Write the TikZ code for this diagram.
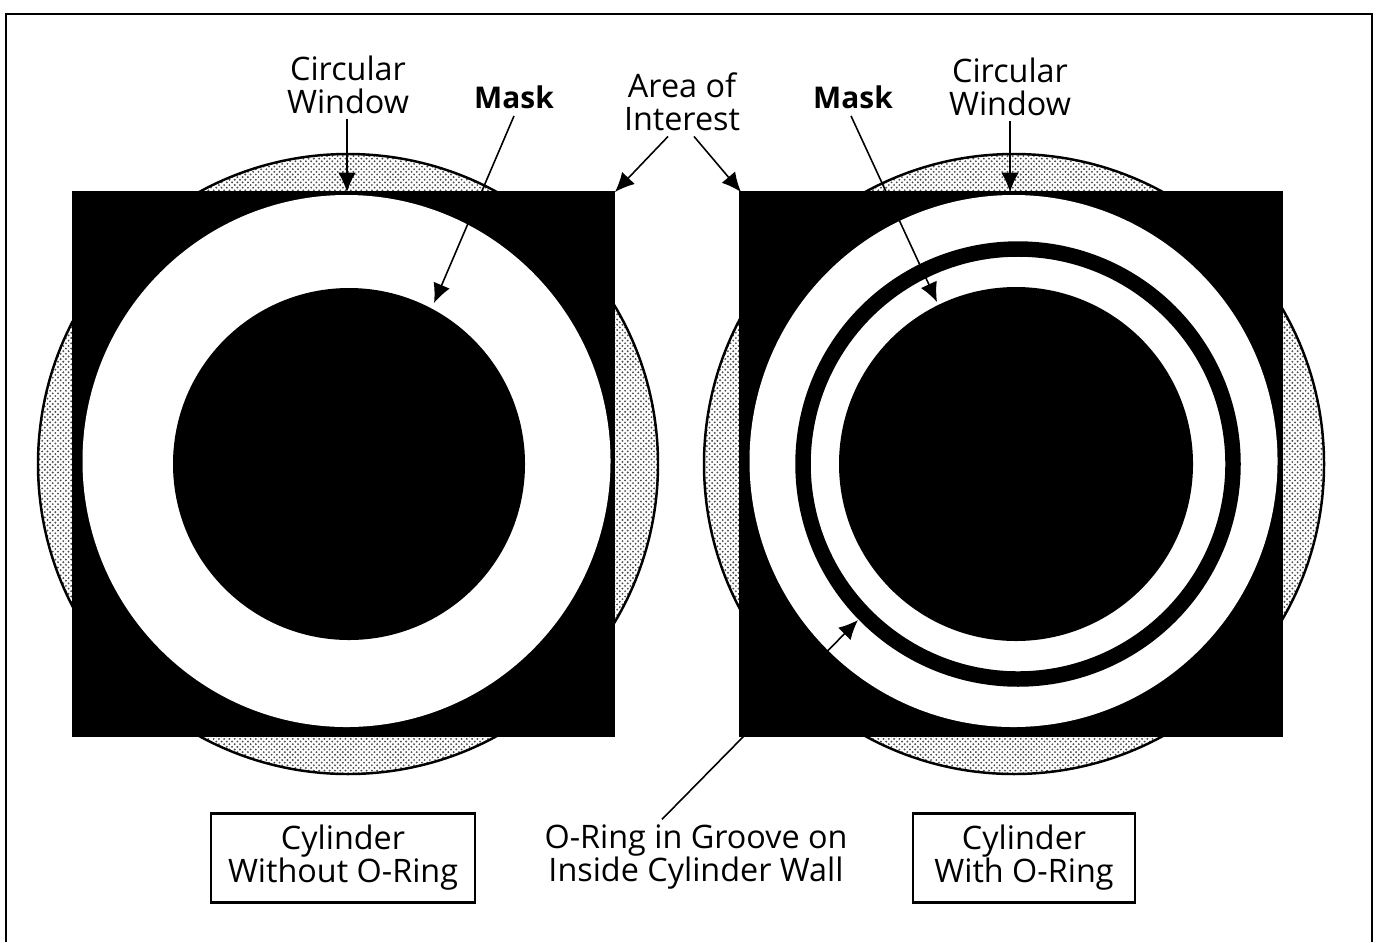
\documentclass[tikz,border=0pt]{standalone}
\usepackage{fontspec}
\setmainfont{Open Sans}
\usetikzlibrary{positioning, arrows.meta, patterns}
\pgfdeclarepatternformonly{finedots}{\pgfqpoint{-0.5pt}{-0.5pt}}{\pgfqpoint{1.5pt}{1.5pt}}{\pgfqpoint{1.5pt}{1.5pt}}{
    \pgfpathcircle{\pgfqpoint{0pt}{0pt}}{0.3pt}
    \pgfpathcircle{\pgfqpoint{0.75pt}{0.75pt}}{0.3pt}
    \pgfusepath{fill}
}
\tikzset{every picture/.append style={thick}}
\tikzset{
    labeltext/.style={align=center, font=\fontsize{9.2}{9.4}\selectfont, inner sep=0pt},
    masktext/.style={font=\fontsize{8.5}{9.4}\selectfont\bfseries, inner sep=0pt},
    namebox/.style={draw, line width=0.6pt, labeltext, minimum height=0.89cm},
    leader/.style={line width=0.45pt, -{Latex[length=5.5pt, width=5pt]}},
    dotdisc/.style={draw, line width=0.7pt, pattern=finedots, pattern color=black!70},
}

\begin{document}
\begin{tikzpicture}[x=0.01cm, y=-0.01cm]
    \useasboundingbox (0,0) rectangle (1380,942);
    % ----------------------------------------------------
    % Frame
    % ----------------------------------------------------
    \draw[line width=0.7pt] (6,942) -- (6,14) -- (1372,14) -- (1372,942);

    % ----------------------------------------------------
    % Left View: Cylinder Without O-Ring
    % ----------------------------------------------------
    \draw[dotdisc] (348,464) circle (310);
    \fill (72,191) rectangle (615,737);
    \fill[white] (346.5,461) ellipse (264 and 266);
    \fill (349,464) circle (176);

    % ----------------------------------------------------
    % Right View: Cylinder With O-Ring
    % ----------------------------------------------------
    \draw[dotdisc] (1014,464) circle (310);
    \fill (739,191) rectangle (1283,737);
    \fill[white] (1013.5,461) ellipse (264 and 266);
    \draw[line width=4.4pt] (1018,464) circle (215);
    \fill (1016,464) circle (177);

    % Labels
    \node[labeltext] (windowL) at (348,85) {Circular\\Window};
    \node[masktext] (maskL) at (514,97) {Mask};
    \node[labeltext] (area) at (682,102) {Area of\\Interest};
    \node[masktext] (maskR) at (853,97) {Mask};
    \node[labeltext] (windowR) at (1010,87) {Circular\\Window};
    \node[namebox, minimum width=2.64cm] (nameL) at (343,858) {Cylinder\\Without O-Ring};
    \node[namebox, minimum width=2.22cm] (nameR) at (1024,858) {Cylinder\\With O-Ring};
    \node[labeltext] (oring) at (696,857) {O-Ring in Groove on\\Inside Cylinder Wall};

    % Leaders
    \coordinate (windowLtip) at (347,192);
    \coordinate (maskLtip) at (434,303);
    \coordinate (areaLtip) at (615,192);
    \coordinate (areaRtip) at (741,192);
    \coordinate (maskRtip) at (937,302);
    \coordinate (windowRtip) at (1010,192);
    \coordinate (oringtip) at (858,620);
    \draw[leader] (windowL.south -| windowLtip) ++(0,4) -- (windowLtip);
    \draw[leader] (maskL.south) ++(0,6) -- (maskLtip);
    \draw[leader] (area.south) ++(-14,4) -- (areaLtip);
    \draw[leader] (area.south) ++(12,4) -- (areaRtip);
    \draw[leader] (maskR.south) ++(-2,6) -- (maskRtip);
    \draw[leader] (windowR.south -| windowRtip) ++(0,4) -- (windowRtip);
    \draw[leader] (oring.north) ++(-34,-4) -- (oringtip);
\end{tikzpicture}
\end{document}
